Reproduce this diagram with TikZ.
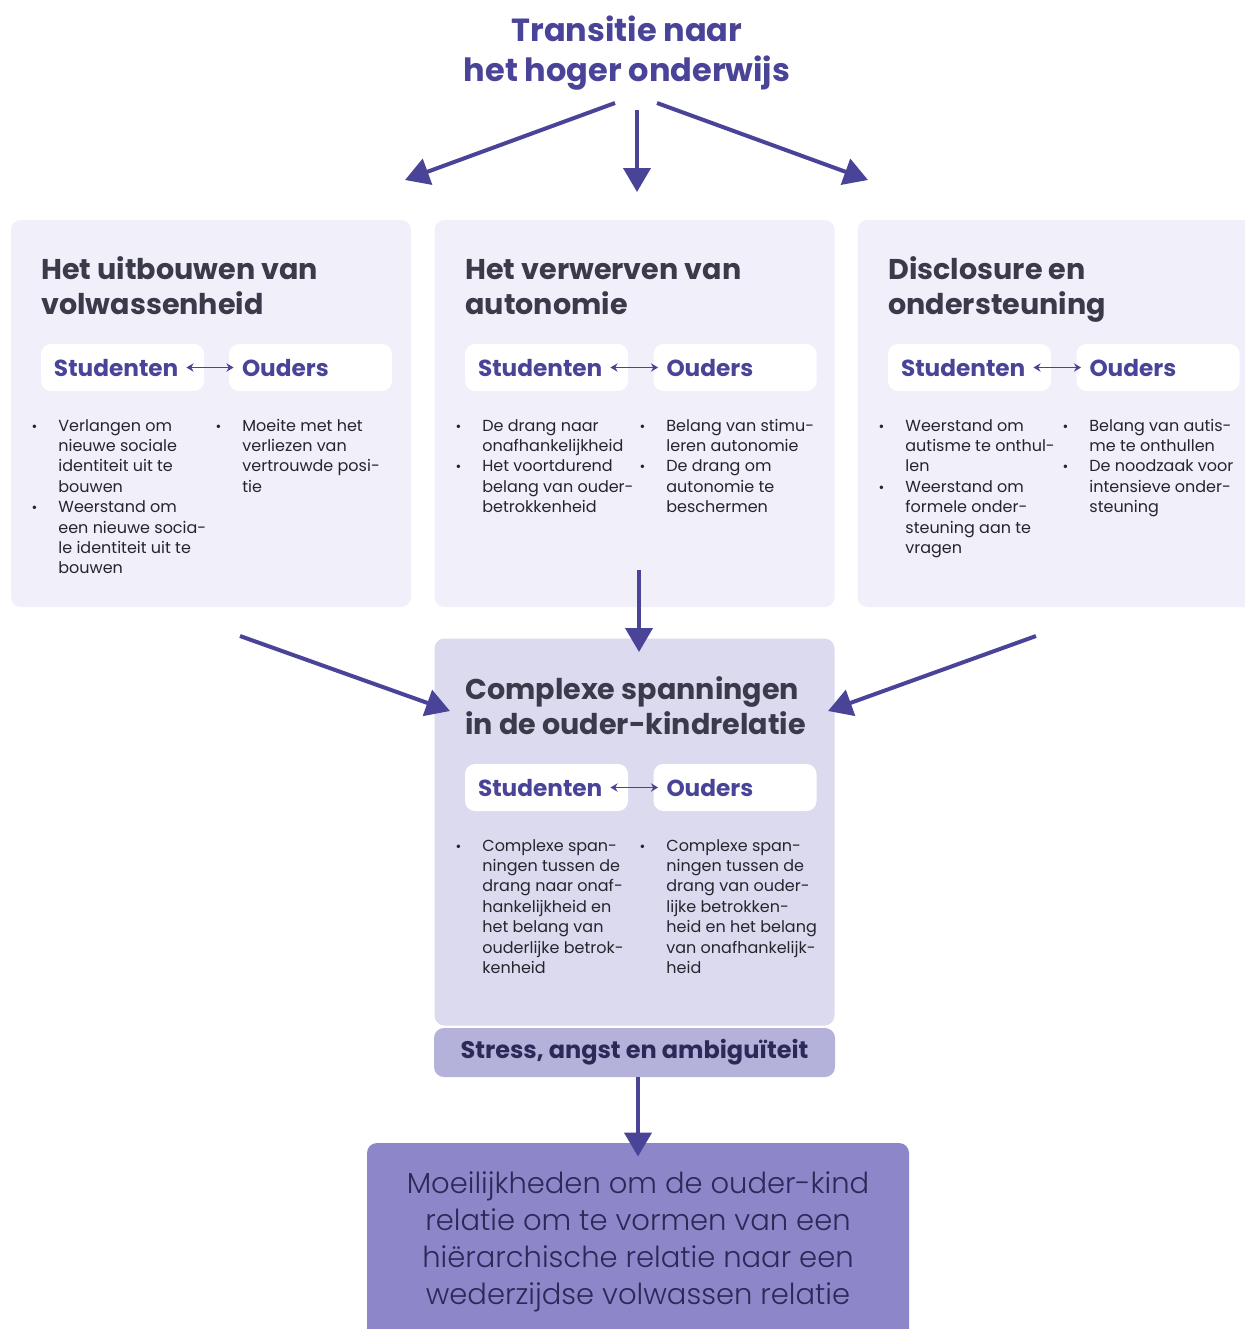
\documentclass[tikz,border=0pt]{standalone}
\usepackage{fontspec}
\setmainfont{Poppins}
\newfontfamily\lightfont{Poppins Light}
\usetikzlibrary{arrows.meta,positioning}
\definecolor{transInk}{HTML}{4A4499}
\definecolor{transHead}{HTML}{3B3A4A}
\definecolor{transText}{HTML}{26252E}
\definecolor{transPanel}{HTML}{F1F0FA}
\definecolor{transCore}{HTML}{DCDAEF}
\definecolor{transStress}{HTML}{B4B1DB}
\definecolor{transOutcome}{HTML}{8D87C9}
\definecolor{transDeep}{HTML}{2C2858}
\newcommand\itembullet{\llap{{\scriptsize\textbullet}\hspace{10.5pt}}}

\begin{document}
\begin{tikzpicture}[
  x=0.5pt, y=-0.5pt,
  title/.style={font=\bfseries\fontsize{16}{20}\selectfont, text=transInk, align=center},
  panel/.style={fill=transPanel, rounded corners=5pt, minimum width=200pt, minimum height=193.5pt, inner sep=0pt},
  heading/.style={font=\bfseries\fontsize{14.3}{17.5}\selectfont, text=transHead, align=left, inner sep=0pt},
  pill/.style={fill=white, rounded corners=5pt, text width=68.5pt, inner xsep=6.5pt, minimum height=23.5pt, align=left, font=\bfseries\fontsize{11.6}{13}\selectfont, text=transInk},
  items/.style={font=\fontsize{8}{10.2}\selectfont, text=transText, align=left, inner sep=0pt},
  arrow/.style={-{Triangle[length=12pt, width=13.5pt]}, line width=2pt, draw=transInk},
  pairarrow/.style={{Stealth[length=3.6pt, width=4.2pt]}-{Stealth[length=3.6pt, width=4.2pt]}, line width=0.9pt, draw=transInk}
]
  \clip (0,0) rectangle (1245,1329);
  \fill[white] (0,0) rectangle (1245,1329);

  \node[title] (title) at (627,53) {Transitie naar\\het hoger onderwijs};

  % three themes
  \node[panel] (vol) at (211,413.5) {};
  \node[panel] (aut) at (634.5,413.5) {};
  \node[panel] (dis) at (1057.5,413.5) {};

  % anchors sit on the last baseline
  \node[heading, anchor=base west] (volT) at (41,314) {Het uitbouwen van\\volwassenheid};
  \node[heading, anchor=base west] (autT) at (465,314) {Het verwerven van\\autonomie};
  \node[heading, anchor=base west] (disT) at (888,314) {Disclosure en\\ondersteuning};

  \node[pill] (volS) at (122.5,367.5) {Studenten};
  \node[pill] (volO) at (310.5,367.5) {Ouders};
  \node[pill] (autS) at (546.5,367.5) {Studenten};
  \node[pill] (autO) at (735,367.5) {Ouders};
  \node[pill] (disS) at (969.5,367.5) {Studenten};
  \node[pill] (disO) at (1158,367.5) {Ouders};
  \draw[pairarrow] ([xshift=-9pt]volS.east) -- ([xshift=2.5pt]volO.west);
  \draw[pairarrow] ([xshift=-9pt]autS.east) -- ([xshift=2.5pt]autO.west);
  \draw[pairarrow] ([xshift=-9pt]disS.east) -- ([xshift=2.5pt]disO.west);

  \node[items, anchor=base west] (volL) at (58,573.8) {\itembullet Verlangen om\\nieuwe sociale\\identiteit uit te\\bouwen\\\itembullet Weerstand om\\een nieuwe socia-\\le identiteit uit te\\bouwen};
  \node[items, anchor=base west] (volR) at (242,492.2) {\itembullet Moeite met het\\verliezen van\\vertrouwde posi-\\tie};
  \node[items, anchor=base west] (autL) at (482,512.6) {\itembullet De drang naar\\onafhankelijkheid\\\itembullet Het voortdurend\\belang van ouder-\\betrokkenheid};
  \node[items, anchor=base west] (autR) at (666,512.6) {\itembullet Belang van stimu-\\leren autonomie\\\itembullet De drang om\\autonomie te\\beschermen};
  \node[items, anchor=base west] (disL) at (905,553.4) {\itembullet Weerstand om\\autisme te onthul-\\len\\\itembullet Weerstand om\\formele onder-\\steuning aan te\\vragen};
  \node[items, anchor=base west] (disR) at (1089,512.6) {\itembullet Belang van autis-\\me te onthullen\\\itembullet De noodzaak voor\\intensieve onder-\\steuning};

  % tensions
  \node[panel, fill=transCore] (core) at (634.5,832) {};
  \node[heading, anchor=base west] (coreT) at (465,734) {Complexe spanningen\\in de ouder-kindrelatie};
  \node[pill] (coreS) at (546.5,787.5) {Studenten};
  \node[pill] (coreO) at (735,787.5) {Ouders};
  \draw[pairarrow] ([xshift=-9pt]coreS.east) -- ([xshift=2.5pt]coreO.west);
  \node[items, anchor=base west] (coreL) at (482,973.4) {\itembullet Complexe span-\\ningen tussen de\\drang naar onaf-\\hankelijkheid en\\het belang van\\ouderlijke betrok-\\kenheid};
  \node[items, anchor=base west] (coreR) at (666,973.4) {\itembullet Complexe span-\\ningen tussen de\\drang van ouder-\\lijke betrokken-\\heid en het belang\\van onafhankelijk-\\heid};

  \node[fill=transStress, rounded corners=5pt, minimum width=200.5pt, minimum height=24.5pt, font=\bfseries\fontsize{12}{14}\selectfont, text=transDeep] (stress) at (634.5,1052.5) {Stress, angst en ambiguïteit};

  \node[fill=transOutcome, rounded corners=5pt, minimum width=271pt, minimum height=98.5pt, align=center, font=\lightfont\fontsize{14.5}{18.5}\selectfont, text=transDeep] (outcome) at (638,1241.5) {Moeilijkheden om de ouder-kind\\relatie om te vormen van een\\hiërarchische relatie naar een\\wederzijdse volwassen relatie};

  % connectors
  \coordinate (t1) at (615,103);
  \coordinate (t2) at (637,110);
  \coordinate (t3) at (657,103);
  \coordinate (h1) at (405,180);
  \coordinate (h2) at (637,192);
  \coordinate (h3) at (868,180);
  \draw[arrow] (t1) -- (h1);
  \draw[arrow] (t2) -- (h2);
  \draw[arrow] (t3) -- (h3);

  \coordinate (m1) at (240,636);
  \coordinate (m2) at (639,570);
  \coordinate (m3) at (1036,636);
  \coordinate (n1) at (450,711);
  \coordinate (n2) at (639,652);
  \coordinate (n3) at (828,711);
  \draw[arrow] (m1) -- (n1);
  \draw[arrow] (m2) -- (n2);
  \draw[arrow] (m3) -- (n3);

  \draw[arrow] (stress.south -| outcome.north) -- ([yshift=-7pt]outcome.north);
\end{tikzpicture}
\end{document}
